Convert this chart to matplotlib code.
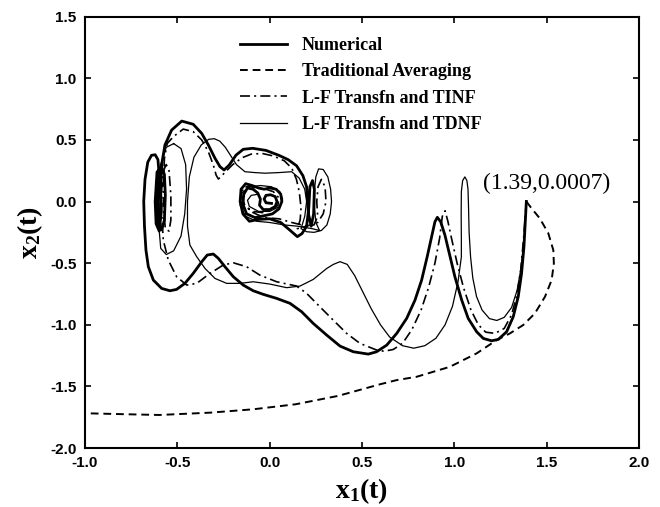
import numpy as np
import matplotlib
matplotlib.use("Agg")
import matplotlib.pyplot as plt
from matplotlib.ticker import FixedLocator, FormatStrFormatter

nan = np.nan

# ---- trajectories in the (x1, x2) phase plane ----
numerical_x = [1.39, 1.384, 1.377, 1.364, 1.346, 1.319, 1.283, 1.238, 1.202, 1.157, 1.121, 1.075, 1.04, 1.003,
               0.973, 0.949, 0.926, 0.908, 0.895, 0.877, 0.853, 0.823, 0.787, 0.742, 0.688, 0.634, 0.579, 0.534,
               0.453, 0.381, 0.309, 0.236, 0.173, 0.11, 0.038, -0.035, -0.089, -0.143, -0.197, -0.242, -0.278,
               -0.305, -0.338, -0.368, -0.414, -0.459, -0.504, -0.54, -0.585, -0.63, -0.657, -0.67, -0.678,
               -0.682, -0.675, -0.66, -0.64, -0.62, -0.605, -0.6, -0.605, -0.6, -0.585, -0.57, -0.565, -0.57,
               -0.585, -0.61, -0.62, -0.615, -0.598, -0.588, -0.59, -0.585, -0.567, -0.531, -0.476, -0.414,
               -0.368, -0.332, -0.296, -0.269, -0.247, -0.219, -0.182, -0.143, -0.092, -0.02, 0.05, 0.1, 0.146,
               0.18, 0.2, 0.21, 0.225, 0.238, 0.242, 0.232, 0.218, 0.212, 0.2, 0.175, 0.15, 0.1, 0.06, 0.0,
               -0.06, -0.11, -0.145, -0.16, -0.155, -0.13, -0.095, -0.06, -0.03, 0.0, 0.035, 0.06, 0.066,
               0.05, 0.015, -0.03, -0.08, -0.125, -0.145, -0.14, -0.12, -0.09, -0.065, -0.05, -0.055, -0.035,
               0.0, 0.03, 0.04, 0.03, 0.005, -0.02, -0.03, -0.02, 0.01]
numerical_y = [0.0007, -0.177, -0.367, -0.583, -0.772, -0.935, -1.057, -1.119, -1.13, -1.111, -1.057, -0.948,
               -0.8, -0.61, -0.421, -0.272, -0.164, -0.128, -0.164, -0.286, -0.448, -0.637, -0.8, -0.948, -1.07,
               -1.165, -1.219, -1.238, -1.219, -1.173, -1.084, -0.989, -0.894, -0.826, -0.786, -0.753, -0.724,
               -0.678, -0.61, -0.529, -0.461, -0.426, -0.434, -0.489, -0.583, -0.664, -0.713, -0.724, -0.705,
               -0.637, -0.529, -0.394, -0.2, 0.0, 0.18, 0.32, 0.375, 0.38, 0.34, 0.25, 0.0, -0.2, -0.23, -0.15,
               0.05, 0.22, 0.28, 0.24, 0.0, -0.18, -0.24, -0.1, 0.1, 0.3, 0.459, 0.58, 0.653, 0.627, 0.553,
               0.459, 0.351, 0.283, 0.256, 0.296, 0.377, 0.424, 0.432, 0.415, 0.375, 0.34, 0.29, 0.21, 0.12,
               -0.1, -0.2, -0.1, 0.1, 0.17, 0.12, -0.05, -0.2, -0.26, -0.285, -0.22, -0.17, -0.14, -0.145,
               -0.16, -0.1, 0.0, 0.1, 0.145, 0.13, 0.11, 0.1, 0.11, 0.1, 0.06, 0.0, -0.06, -0.1, -0.115, -0.13,
               -0.1, -0.02, 0.06, 0.11, 0.1, 0.07, 0.02, -0.03, -0.065, -0.065, -0.04, 0.0, 0.04, 0.055, 0.05,
               0.02, -0.01, -0.015]

averaging_x = [1.39, 1.418, 1.463, 1.509, 1.536, 1.539, 1.527, 1.491, 1.436, 1.373, 1.301, 1.229, 1.121,
               0.976, 0.796, 0.688, 0.6, 0.371, 0.141, -0.09, -0.32, -0.597, -0.781, -1.0]
averaging_y = [0.0007, -0.055, -0.137, -0.258, -0.394, -0.502, -0.637, -0.772, -0.908, -1.002, -1.07, -1.124,
               -1.232, -1.341, -1.422, -1.449, -1.482, -1.577, -1.645, -1.686, -1.713, -1.732, -1.726, -1.718]

tinf_x = [1.39, 1.385, 1.375, 1.36, 1.34, 1.31, 1.27, 1.22, 1.17, 1.13, 1.09, 1.05, 1.015, 0.985, 0.965,
          0.95, 0.935, 0.92, 0.895, 0.86, 0.82, 0.77, 0.72, 0.67, 0.62, 0.579, 0.489, 0.417, 0.344, 0.272,
          0.2, 0.146, 0.038, -0.053, -0.125, -0.197, -0.251, -0.323, -0.395, -0.449, -0.504, -0.549, -0.576,
          -0.585, -0.585, -0.575, -0.56, -0.545, -0.535, -0.535, -0.545, -0.565, -0.575, -0.575, -0.57,
          -0.555, -0.522, -0.468, -0.414, -0.368, -0.332, -0.305, -0.29, -0.278, -0.265, -0.24, -0.2, -0.15,
          -0.1, -0.04, 0.02, 0.08, 0.12, 0.145, 0.16, 0.17, 0.165, 0.15, 0.2, 0.26, 0.29, 0.305, 0.3, 0.28,
          0.262, 0.255, 0.26, 0.24, 0.2, 0.12, 0.05, -0.03, -0.09, -0.135, -0.15, -0.145, -0.115, -0.07,
          -0.02, 0.02, 0.05, 0.045, 0.01, -0.04, -0.09, -0.125]
tinf_y = [0.0007, -0.1, -0.3, -0.55, -0.75, -0.92, -1.03, -1.07, -1.06, -1.0, -0.88, -0.7, -0.5, -0.3,
          -0.16, -0.075, -0.12, -0.3, -0.5, -0.7, -0.88, -1.04, -1.15, -1.2, -1.215, -1.205, -1.151, -1.07,
          -0.962, -0.854, -0.745, -0.686, -0.651, -0.597, -0.529, -0.497, -0.515, -0.583, -0.664, -0.678,
          -0.61, -0.475, -0.313, -0.1, 0.1, 0.25, 0.3, 0.25, 0.05, -0.15, -0.24, -0.22, -0.05, 0.15, 0.35,
          0.47, 0.526, 0.588, 0.567, 0.5, 0.404, 0.296, 0.215, 0.183, 0.2, 0.24, 0.3, 0.355, 0.385, 0.39,
          0.37, 0.33, 0.27, 0.18, 0.08, -0.05, -0.15, -0.22, -0.2, -0.17, -0.1, 0.0, 0.12, 0.18, 0.12, 0.0,
          -0.12, -0.19, -0.2, -0.17, -0.14, -0.13, -0.09, -0.03, 0.04, 0.11, 0.125, 0.11, 0.1, 0.08,
          0.03, -0.03, -0.07, -0.09, -0.08, -0.05]

tdnf_x = [1.39, 1.385, 1.375, 1.36, 1.34, 1.31, 1.27, 1.23, 1.19, 1.15, 1.12, 1.1, 1.088, 1.08, 1.077,
          1.074, 1.068, 1.057, 1.045, 1.038, 1.037, 1.038, 1.038, 1.02, 0.99, 0.95, 0.9, 0.84, 0.78, 0.72,
          0.65, 0.6, 0.55, 0.5, 0.46, 0.42, 0.381, 0.345, 0.309, 0.236, 0.164, 0.092, 0.002, -0.089,
          -0.161, -0.233, -0.296, -0.35, -0.395, -0.432, -0.445, -0.445, -0.435, -0.41, -0.37, -0.33, -0.3,
          -0.27, -0.24, -0.21, -0.18, -0.134, -0.08, -0.025, 0.05, 0.119, 0.16, 0.19, 0.2, 0.19, 0.17, 0.2,
          0.24, 0.28, 0.31, 0.328, 0.335, 0.33, 0.315, 0.29, 0.265, 0.25, 0.243, 0.243, 0.25, 0.27,
          0.23, 0.15, 0.08, 0.0, -0.07, -0.13,
          -0.16, -0.15, -0.11, -0.05, 0.01, 0.055, 0.07, 0.055, 0.0, -0.06, -0.11, -0.12, -0.1, -0.06,
          nan, -0.52, -0.48, -0.455, -0.45, -0.46, -0.48, -0.52, -0.56, -0.59, -0.6, -0.6, -0.59, -0.56,
          -0.52]
tdnf_y = [0.0007, -0.15, -0.35, -0.55, -0.72, -0.86, -0.94, -0.965, -0.95, -0.88, -0.77, -0.62, -0.45,
          -0.25, -0.05, 0.1, 0.17, 0.2, 0.17, 0.08, -0.1, -0.3, -0.45, -0.65, -0.85, -1.0, -1.11, -1.17,
          -1.19, -1.17, -1.1, -1.0, -0.87, -0.72, -0.6, -0.51, -0.488, -0.51, -0.543, -0.632, -0.686,
          -0.699, -0.67, -0.651, -0.664, -0.664, -0.624, -0.543, -0.448, -0.353, -0.2, 0.0, 0.2, 0.36,
          0.46, 0.505, 0.51, 0.49, 0.44, 0.37, 0.3, 0.242, 0.235, 0.23, 0.235, 0.242, 0.19, 0.1, 0.0,
          -0.12, -0.22, -0.245, -0.25, -0.235, -0.19, -0.1, 0.0, 0.1, 0.2, 0.26, 0.265, 0.2, 0.1, -0.05,
          -0.17, -0.235, -0.22, -0.2,
          -0.19, -0.17, -0.16, -0.12, -0.03, 0.07, 0.12, 0.13, 0.12, 0.08, 0.02, -0.04, -0.08, -0.08,
          -0.04, 0.01, 0.05, 0.06, nan, 0.47, 0.43, 0.3, 0.1, -0.1, -0.28, -0.4, -0.43, -0.38, -0.2,
          0.05, 0.3, 0.44, 0.47]

legend_labels = ["Numerical", "Traditional Averaging", "L-F Transfn and TINF", "L-F Transfn and TDNF"]
start_label = "(1.39,0.0007)"
x_ticks = [-1.0, -0.5, 0.0, 0.5, 1.0, 1.5, 2.0]
y_ticks = [-2.0, -1.5, -1.0, -0.5, 0.0, 0.5, 1.0, 1.5]

plt.rcParams["axes.unicode_minus"] = False
plt.rcParams["mathtext.fontset"] = "custom"
plt.rcParams["mathtext.rm"] = "Liberation Serif:bold"
plt.rcParams["mathtext.it"] = "Liberation Serif:bold"
plt.rcParams["mathtext.bf"] = "Liberation Serif:bold"

fig = plt.figure(figsize=(6.6, 5.07), dpi=100)
ax = fig.add_axes([85 / 660, 1 - 448 / 507, 554 / 660, 431.3 / 507])

ax.plot(numerical_x, numerical_y, color="black", lw=2.0, solid_joinstyle="round",
        label=legend_labels[0])
ax.plot(averaging_x, averaging_y, color="black", lw=1.4, linestyle=(0, (4, 2.5)),
        label=legend_labels[1])
ax.plot(tinf_x, tinf_y, color="black", lw=1.2, linestyle=(0, (6, 2.5, 1.2, 2.5)),
        label=legend_labels[2])
ax.plot(tdnf_x, tdnf_y, color="black", lw=0.9, label=legend_labels[3])

ax.text(1.155, 0.15, start_label, fontsize=17, family="Liberation Serif",
        ha="left", va="center")

ax.set_xlim(-1.0, 2.0)
ax.set_ylim(-2.0, 1.5)
ax.xaxis.set_major_locator(FixedLocator(x_ticks))
ax.yaxis.set_major_locator(FixedLocator(y_ticks))
ax.xaxis.set_major_formatter(FormatStrFormatter("%.1f"))
ax.yaxis.set_major_formatter(FormatStrFormatter("%.1f"))
ax.tick_params(direction="in", top=True, right=True, length=4, width=1.2, pad=6)
for lab in ax.get_xticklabels() + ax.get_yticklabels():
    lab.set_fontfamily("Liberation Sans")
    lab.set_fontweight("bold")
    lab.set_fontsize(11)
for sp in ax.spines.values():
    sp.set_linewidth(1.5)

ax.set_xlabel(r"$\mathrm{x_1(t)}$", fontsize=20, labelpad=4)
ax.set_ylabel(r"$\mathrm{x_2(t)}$", fontsize=20, labelpad=4)

leg = ax.legend(loc="upper left", bbox_to_anchor=(0.28, 0.953), frameon=False,
                prop={"family": "Liberation Serif", "weight": "bold", "size": 13},
                handlelength=2.6, handletextpad=0.8, labelspacing=0.52,
                borderaxespad=0, borderpad=0)

fig.savefig("out.png", dpi=100)
